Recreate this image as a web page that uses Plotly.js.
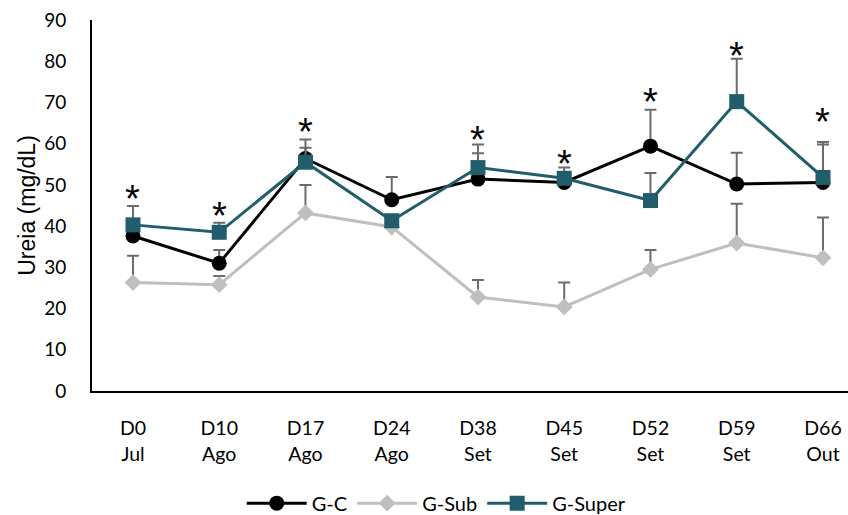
<!DOCTYPE html>
<html>
<head>
<meta charset="utf-8">
<script src="https://cdn.plot.ly/plotly-3.0.1.min.js"></script>
<style>html,body{margin:0;padding:0;background:#fff;}#chart{width:848px;height:515px;}</style>
</head>
<body>
<div id="chart"></div>
<script>
const categories = ["D0<br>Jul", "D10<br>Ago", "D17<br>Ago", "D24<br>Ago", "D38<br>Set", "D45<br>Set", "D52<br>Set", "D59<br>Set", "D66<br>Out"];
const gcValues = [37.6, 31.0, 56.4, 46.4, 51.4, 50.6, 59.4, 50.2, 50.6];
const gcErrors = [3.0, 3.2, 2.6, 5.5, 6.3, 2.5, 8.8, 7.6, 9.2];
const gsubValues = [26.3, 25.8, 43.2, 39.8, 22.8, 20.4, 29.5, 35.9, 32.3];
const gsubErrors = [6.5, 2.1, 6.8, 0, 4.1, 5.9, 4.7, 9.5, 9.8];
const gsuperValues = [40.3, 38.5, 55.5, 41.3, 54.2, 51.6, 46.2, 70.2, 51.8];
const gsuperErrors = [4.6, 2.3, 5.5, 0, 5.6, 2.6, 6.7, 10.4, 8.6];
const starCategories = ["D0<br>Jul", "D10<br>Ago", "D17<br>Ago", "D38<br>Set", "D45<br>Set", "D52<br>Set", "D59<br>Set", "D66<br>Out"];
const starValues = [46.5, 42.5, 62.8, 60.8, 55.0, 70.0, 81.3, 65.2];

const errColor = '#6b6b6b';
function errBar(arr) {
  return {type: 'data', symmetric: false, array: arr, arrayminus: arr.map(() => 0),
          color: errColor, thickness: 2, width: 6};
}

const traces = [
  {x: categories, y: gcValues, name: 'G-C', type: 'scatter', mode: 'lines+markers',
   line: {color: '#000000', width: 3}, marker: {symbol: 'circle', size: 15, color: '#000000'},
   error_y: errBar(gcErrors)},
  {x: categories, y: gsubValues, name: 'G-Sub', type: 'scatter', mode: 'lines+markers',
   line: {color: '#bfbfbf', width: 3}, marker: {symbol: 'diamond', size: 13, color: '#bfbfbf'},
   error_y: errBar(gsubErrors)},
  {x: categories, y: gsuperValues, name: 'G-Super', type: 'scatter', mode: 'lines+markers',
   line: {color: '#215d6b', width: 3}, marker: {symbol: 'square', size: 15, color: '#215d6b'},
   error_y: errBar(gsuperErrors)}
];

const annotations = starCategories.map((c, i) => ({
  x: c, y: starValues[i], xref: 'x', yref: 'y', text: '*', showarrow: false,
  font: {family: 'Liberation Sans, Arial', size: 38, color: '#000'}, yanchor: 'middle', xanchor: 'center'
}));

const layout = {
  width: 848, height: 515,
  margin: {l: 92, r: 0, t: 20, b: 124},
  paper_bgcolor: '#fff', plot_bgcolor: '#fff',
  showlegend: true,
  legend: {orientation: 'h', xref: 'container', yref: 'container', x: 0.515, xanchor: 'center',
           y: 0.023, yanchor: 'middle', font: {family: 'Lato, Open Sans, sans-serif', size: 20, color: '#000'},
           itemwidth: 60, tracegroupgap: 0},
  xaxis: {type: 'category', range: [-0.475, 8.29], showline: true, linecolor: '#000', linewidth: 2,
          showgrid: false, zeroline: false, ticks: 'outside', ticklen: 19, tickcolor: 'rgba(0,0,0,0)',
          tickfont: {family: 'Lato, Open Sans, sans-serif', size: 19.5, color: '#000'}, fixedrange: true},
  yaxis: {range: [0, 90], dtick: 10, showline: true, linecolor: '#000', linewidth: 2,
          showgrid: false, zeroline: false, ticks: 'outside', ticklen: 20, tickcolor: 'rgba(0,0,0,0)',
          tickfont: {family: 'Lato, Open Sans, sans-serif', size: 19, color: '#000'},
          title: {text: 'Ureia (mg/dL)', font: {family: 'Liberation Sans, Arial', size: 23, color: '#000'}, standoff: 2}},
  annotations: annotations
};

Plotly.newPlot('chart', traces, layout, {displayModeBar: false, staticPlot: true});
</script>
</body>
</html>
